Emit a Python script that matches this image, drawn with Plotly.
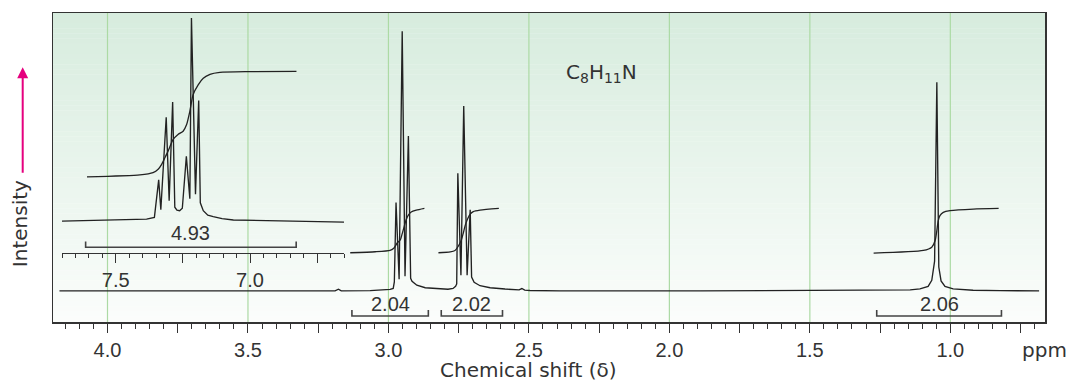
import plotly.graph_objects as go

# ---------------- data ----------------
# main spectrum: chemical shift (ppm) and intensity (arbitrary units)
MAIN_PPM = [4.171, 3.190, 3.178, 3.168, 3.065, 3.012, 2.994, 2.983, 2.979, 2.973,
            2.962, 2.951, 2.941, 2.929, 2.921, 2.916, 2.899, 2.869, 2.827, 2.788,
            2.770, 2.761, 2.757, 2.753, 2.742, 2.732, 2.720, 2.709, 2.704, 2.695,
            2.674, 2.638, 2.585, 2.549, 2.535, 2.525, 2.515, 2.496, 2.389, 1.891,
            1.250, 1.143, 1.108, 1.079, 1.066, 1.056, 1.048, 1.041, 1.033, 1.019,
            0.990, 0.919, 0.823, 0.684]
MAIN_INT = [0, 0, 1.7, 0, 0.2, 0.8, 1.5, 2.5, 9, 89,
            11.7, 261.4, 14.7, 156, 12.7, 9.7, 5.7, 3.2, 2.1, 1.7,
            2.5, 4.7, 7, 118.4, 15.7, 186, 15.7, 81.7, 14, 8.7,
            5.2, 3.2, 1.9, 1.2, 1.0, 2.4, 0.8, 0.4, 0, 0,
            0.3, 1.0, 2, 4.5, 10.7, 30, 210, 24, 10, 4.5,
            2, 0.7, 0.2, 0]

# aromatic region inset (expanded)
INSET_PPM = [7.700, 7.485, 7.385, 7.356, 7.340, 7.332, 7.312, 7.301, 7.288, 7.280,
             7.272, 7.262, 7.252, 7.237, 7.224, 7.218, 7.203, 7.191, 7.185, 7.174,
             7.157, 7.137, 7.104, 7.062, 6.888, 6.650]
INSET_INT = [0, 1, 2, 3.8, 41.5, 11.5, 104.5, 20.5, 119.8, 14,
             11, 10.5, 13, 65.2, 22.5, 204.5, 27.2, 121.5, 18.5, 10.5,
             6, 4.5, 2.5, 1.2, 0.3, -1]

# integral traces
INSET_INTEG_PPM = [7.607, 7.410, 7.361, 7.342, 7.329, 7.317, 7.305, 7.286, 7.268, 7.249,
                   7.236, 7.224, 7.212, 7.193, 7.174, 7.149, 7.112, 7.000, 6.827]
INSET_INTEG_VAL = [44.5, 46.5, 48.8, 52.2, 57.2, 63.8, 70.5, 82.2, 87.2, 90.5,
                   97.2, 110.5, 127.2, 137.2, 143.8, 147.8, 149.8, 150.5, 150.8]

INT1_PPM = [3.136, 3.047, 2.994, 2.980, 2.969, 2.958, 2.951, 2.944, 2.937, 2.928, 2.919, 2.901, 2.872]
INT1_VAL = [38.4, 39.4, 40.9, 43.2, 48.2, 51.2, 57.7, 64.7, 71.7, 76.7, 79.4, 81.2, 83]
INT2_PPM = [2.822, 2.780, 2.763, 2.752, 2.741, 2.734, 2.727, 2.718, 2.709, 2.698, 2.674, 2.607]
INT2_VAL = [38.4, 39.2, 40.7, 44.7, 50.7, 57.7, 65.7, 72.7, 77.2, 79.7, 81.2, 83]
INT3_PPM = [1.273, 1.096, 1.066, 1.054, 1.048, 1.043, 1.037, 1.025, 1.001, 0.918, 0.828]
INT3_VAL = [38, 40.7, 44, 50.7, 60.7, 70.7, 75.7, 79, 80.7, 82.4, 83]

# integration brackets
BRACKET_LABELS = ["2.04", "2.02", "2.06"]
BRACKET_FROM = [3.130, 2.812, 1.262]
BRACKET_TO = [2.858, 2.594, 0.818]
INSET_BRACKET_LABEL = "4.93"
INSET_BRACKET_FROM = 7.612
INSET_BRACKET_TO = 6.828

# axes
MAIN_TICKS = [4.0, 3.75, 3.5, 3.25, 3.0, 2.75, 2.5, 2.25, 2.0, 1.75, 1.5, 1.25, 1.0, 0.75]
MAIN_TICK_TEXT = ["4.0", "", "3.5", "", "3.0", "", "2.5", "", "2.0", "", "1.5", "", "1.0", ""]
GRID_PPM = [4.0, 3.5, 3.0, 2.5, 2.0, 1.5, 1.0]
INSET_TICKS = [7.5, 7.25, 7.0, 6.75]
INSET_TICK_TEXT = ["7.5", "", "7.0", ""]

# ---------------- styling ----------------
NUMFONT = "Liberation Sans, Arial, sans-serif"
TXTFONT = "DejaVu Sans, Verdana, sans-serif"
INK = "#222222"
TXT = "#333333"
AX = "#333333"
INSET_OFFSET = 70.2
Y_RANGE = [-31.3, 279.7]
X_RANGE = [4.194, 0.663]
X2_RANGE = [7.70, 6.65]

W, H = 1071, 381
REF_L, REF_R, REF_T, REF_B = 53, 1045, 11, 322
ML, MT, MR, MB = REF_L, REF_T, W - REF_R, H - REF_B
pw, ph = REF_R - REF_L, REF_B - REF_T


def px_x(p):
    return (p - REF_L) / pw


def px_y(p):
    return (REF_B - p) / ph


fig = go.Figure()

line = dict(color=INK, width=1.35)
fig.add_trace(go.Scatter(x=MAIN_PPM, y=MAIN_INT, mode="lines", line=line,
                         hoverinfo="skip", showlegend=False))
for px, pv in [(INT1_PPM, INT1_VAL), (INT2_PPM, INT2_VAL), (INT3_PPM, INT3_VAL)]:
    fig.add_trace(go.Scatter(x=px, y=pv, mode="lines",
                             line=dict(color=INK, width=1.3, shape="spline", smoothing=0.6),
                             hoverinfo="skip", showlegend=False))

fig.add_trace(go.Scatter(x=INSET_PPM, y=[v + INSET_OFFSET for v in INSET_INT],
                         xaxis="x2", yaxis="y", mode="lines", line=line,
                         hoverinfo="skip", showlegend=False))
fig.add_trace(go.Scatter(x=INSET_INTEG_PPM, y=[v + INSET_OFFSET for v in INSET_INTEG_VAL],
                         xaxis="x2", yaxis="y", mode="lines",
                         line=dict(color=INK, width=1.3, shape="spline", smoothing=0.6),
                         hoverinfo="skip", showlegend=False))

# brackets
BR_BAR, BR_END, BR_TXT = -25.3, -19.3, -13.5
bcol = dict(color="#444444", width=1.6)
for lab, a, b in zip(BRACKET_LABELS, BRACKET_FROM, BRACKET_TO):
    fig.add_trace(go.Scatter(x=[a, a, b, b], y=[BR_END, BR_BAR, BR_BAR, BR_END], mode="lines",
                             line=bcol, hoverinfo="skip", showlegend=False))
    fig.add_annotation(x=(a + b) / 2, y=BR_TXT, xref="x", yref="y", text=lab, showarrow=False,
                       font=dict(family=NUMFONT, size=20, color=TXT), xanchor="center", yanchor="middle")
IB_BAR, IB_END, IB_TXT = 44.0, 49.7, 58.5
fig.add_trace(go.Scatter(x=[INSET_BRACKET_FROM, INSET_BRACKET_FROM, INSET_BRACKET_TO, INSET_BRACKET_TO],
                         y=[IB_END, IB_BAR, IB_BAR, IB_END], xaxis="x2", yaxis="y", mode="lines",
                         line=bcol, hoverinfo="skip", showlegend=False))
fig.add_annotation(x=(INSET_BRACKET_FROM + INSET_BRACKET_TO) / 2, y=IB_TXT, xref="x2", yref="y",
                   text=INSET_BRACKET_LABEL, showarrow=False,
                   font=dict(family=NUMFONT, size=20, color=TXT), xanchor="center", yanchor="middle")

# background gradient + grid lines
shapes = []
N = 60
top = (215, 236, 222)
bot = (251, 253, 251)
for i in range(N):
    t = i / (N - 1)
    c = tuple(round(top[k] + (bot[k] - top[k]) * t) for k in range(3))
    shapes.append(dict(type="rect", xref="paper", yref="paper", x0=0, x1=1,
                       y0=1 - (i + 1) / N, y1=1 - i / N + 0.001,
                       fillcolor="rgb(%d,%d,%d)" % c, line=dict(width=0), layer="below"))
for g in GRID_PPM:
    shapes.append(dict(type="line", xref="x", yref="paper", x0=g, x1=g, y0=0, y1=1,
                       line=dict(color="rgb(172,218,164)", width=1.2), layer="below"))

fig.add_annotation(x=px_x(564), y=px_y(71), xref="paper", yref="paper",
                   text="C<sub>8</sub>H<sub>11</sub>N", showarrow=False,
                   font=dict(family=TXTFONT, size=20, color=TXT), xanchor="left", yanchor="middle")
fig.add_annotation(x=px_x(1044), y=px_y(350), xref="paper", yref="paper", text="ppm",
                   showarrow=False, font=dict(family=TXTFONT, size=20, color=TXT),
                   xanchor="center", yanchor="middle")
fig.add_annotation(x=px_x(528.5), y=px_y(370), xref="paper", yref="paper",
                   text="Chemical shift (δ)", showarrow=False,
                   font=dict(family=TXTFONT, size=20, color=TXT), xanchor="center", yanchor="middle")
fig.add_annotation(x=px_x(20), y=px_y(223.5), xref="paper", yref="paper", text="Intensity",
                   textangle=-90, showarrow=False, font=dict(family=TXTFONT, size=20, color=TXT),
                   xanchor="center", yanchor="middle")
fig.add_annotation(x=px_x(22.7), y=px_y(65.7), xref="paper", yref="paper", text="",
                   showarrow=True, ax=0, ay=107, arrowhead=2, arrowsize=1.1, arrowwidth=2,
                   arrowcolor="#e5007e")

fig.update_layout(
    width=W, height=H, autosize=False,
    margin=dict(l=ML, r=MR, t=MT, b=MB, pad=0),
    paper_bgcolor="white", plot_bgcolor="rgba(0,0,0,0)",
    font=dict(family=NUMFONT, color=TXT),
    shapes=shapes,
    hovermode=False,
    xaxis=dict(range=X_RANGE, tickmode="array", tickvals=MAIN_TICKS, ticktext=MAIN_TICK_TEXT,
               ticks="outside", ticklen=9, tickwidth=1, tickcolor=AX,
               minor=dict(tick0=0, dtick=0.05, ticks="outside", ticklen=5, tickwidth=1,
                          tickcolor=AX, showgrid=False),
               showgrid=False, zeroline=False, showline=True, mirror=True,
               linecolor=AX, linewidth=1.5, tickfont=dict(family=NUMFONT, size=20, color=TXT)),
    xaxis2=dict(range=X2_RANGE, domain=[px_x(62), px_x(344)], anchor="free",
                position=px_y(252.7), tickmode="array", tickvals=INSET_TICKS,
                ticktext=INSET_TICK_TEXT, ticks="outside", ticklen=9, tickwidth=1,
                tickcolor=AX,
                minor=dict(tick0=0, dtick=0.05, ticks="outside", ticklen=4, tickwidth=1,
                           tickcolor=AX, showgrid=False),
                showgrid=False, zeroline=False, showline=True, linecolor=AX, linewidth=1.3,
                tickfont=dict(family=NUMFONT, size=20, color=TXT)),
    yaxis=dict(range=Y_RANGE, showgrid=False, zeroline=False, showticklabels=False,
               ticks="", showline=True, mirror=True, linecolor=AX, linewidth=1.5),
)

fig.write_html(
    "out.html",
    config={"displayModeBar": False, "staticPlot": True},
    post_script="document.body.style.margin='0';document.documentElement.style.overflow='hidden';",
)
